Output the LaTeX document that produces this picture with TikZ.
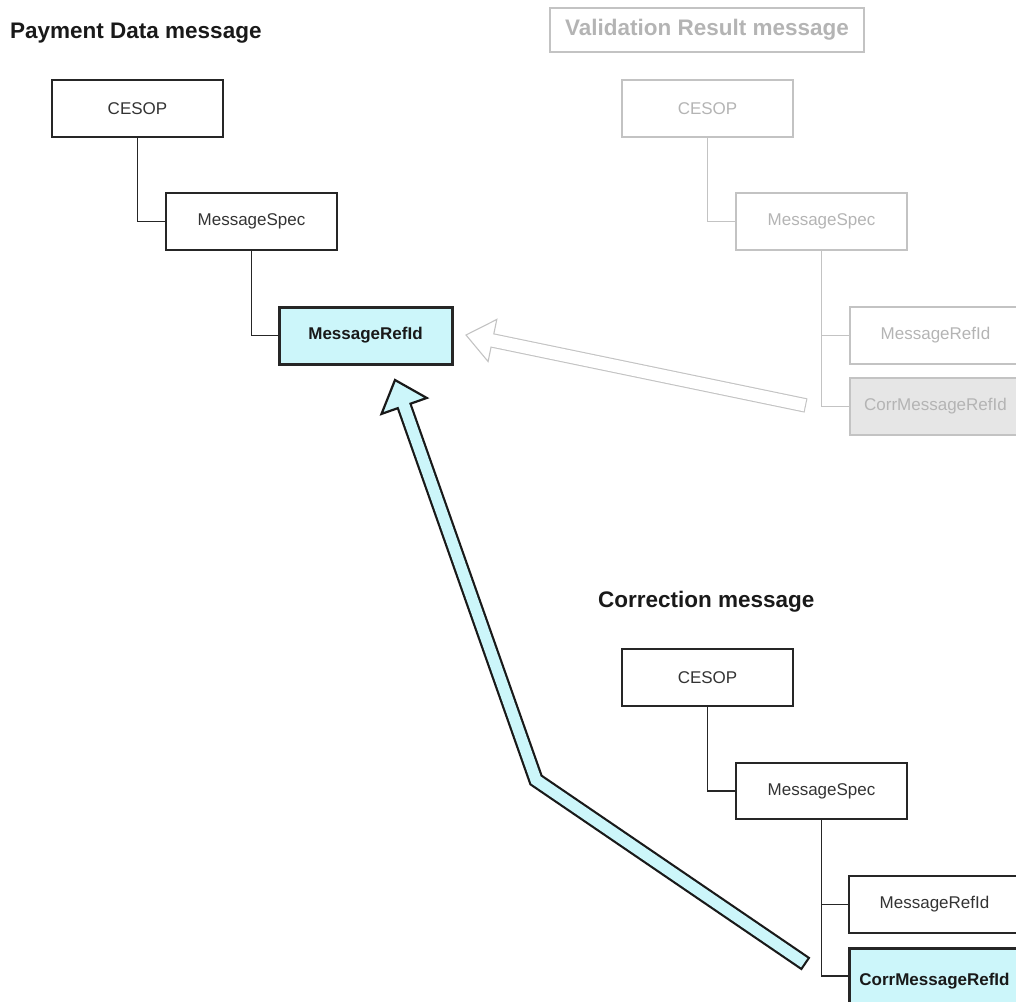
\documentclass[tikz,border=0pt]{standalone}
\usepackage{fontspec}
\setmainfont{Liberation Sans}
\usetikzlibrary{calc}
\definecolor{boxtext}{RGB}{51,51,51}
\definecolor{cyanfill}{RGB}{204,246,250}
\definecolor{vgray}{RGB}{195,195,195}
\definecolor{vtext}{RGB}{180,180,180}
\definecolor{vfill}{RGB}{230,230,230}
\begin{document}
\begin{tikzpicture}[x=1pt,y=-1pt,
  box/.style={draw=black!85, line width=1.3pt, minimum width=171pt, minimum height=57pt, inner sep=0pt, text=boxtext, font=\fontsize{17}{20}\selectfont},
  hibox/.style={box, line width=3pt, fill=cyanfill, text=black!90, font=\bfseries\fontsize{17}{20}\selectfont},
  vbox/.style={box, draw=vgray, text=vtext},
  link/.style={draw=black!85, line width=1.3pt},
  vlink/.style={draw=vgray, line width=1.3pt},
  title/.style={anchor=base west, inner sep=0pt, font=\bfseries\fontsize{22.5}{26}\selectfont, text=black!90}]
\useasboundingbox (0,0) rectangle (1016,1001);
\clip (0,0) rectangle (1016,1001);

% Payment Data message
\node[title] (pT) at (10,38) {Payment Data message};
\node[box] (pC) at (137.5,108.5) {CESOP};
\node[box] (pS) at (251.5,221.5) {MessageSpec};
\node[hibox, minimum width=173pt] (pR) at (365.5,335.5) {MessageRefId};
\draw[link] (pC.south) |- (pS.west);
\draw[link] (pS.south) |- (pR.west);

% Validation Result message
\node[draw=vgray, line width=1.3pt, minimum width=314pt, minimum height=44pt, inner sep=0pt, text=vtext, font=\bfseries\fontsize{22.5}{26}\selectfont] (vT) at (707,30) {Validation Result message};
\node[vbox] (vC) at (707.5,108.5) {CESOP};
\node[vbox] (vS) at (821.5,221.5) {MessageSpec};
\node[vbox] (vR) at (935.5,335.5) {MessageRefId};
\node[vbox, fill=vfill] (vCR) at (935.5,406.5) {CorrMessageRefId};
\draw[vlink] (vC.south) |- (vS.west);
\draw[vlink] (vS.south) |- (vR.west);
\draw[vlink] (vS.south) |- (vCR.west);

% Correction message
\node[title] (cT) at (598,607) {Correction message};
\node[box] (cC) at (707.5,677.5) {CESOP};
\node[box, minimum height=56pt] (cS) at (821.5,791) {MessageSpec};
\node[box] (cR) at (934.5,904.5) {MessageRefId};
\node[hibox, minimum height=66pt] (cCR) at (934.5,981) {CorrMessageRefId};
\coordinate (cJ) at (cS.south |- 0,976);
\draw[link] (cC.south) |- (cS.west);
\draw[link] (cS.south) |- (cR.west);
\draw[link] (cS.south) -- (cJ) -- (cCR.west |- cJ);

% gray hollow arrow (validation -> payment)
\coordinate (gt) at (806,405.5);
\coordinate (gp) at (466,335);
\coordinate (gh) at ($(gp)!27pt!(gt)$);
\coordinate (gl) at ($(gh)!21.5pt!90:(gp)$);
\coordinate (gr) at ($(gh)!21.5pt!-90:(gp)$);
\draw[line width=14.5pt, vgray] (gt) -- (gh);
\draw[fill=white, draw=vgray, line width=1.1pt, line join=miter] (gp) -- (gl) -- (gr) -- cycle;
\draw[line width=12.3pt, white, shorten <=1.1pt, shorten >=-3pt] (gt) -- (gh);

% cyan bent arrow (correction -> payment)
\coordinate (at) at (806,964);
\coordinate (ab) at (536,780);
\coordinate (ap) at (395,380);
\coordinate (ah) at ($(ap)!27.5pt!(ab)$);
\coordinate (al) at ($(ah)!24pt!90:(ap)$);
\coordinate (ar) at ($(ah)!24pt!-90:(ap)$);
\draw[line width=15.5pt, black!90, line join=miter] (at) -- (ab) -- (ah);
\draw[fill=cyanfill, draw=black!90, line width=2.2pt, line join=miter] (ap) -- (al) -- (ar) -- cycle;
\draw[line width=11.1pt, cyanfill, line join=miter, shorten <=2.2pt, shorten >=-3pt] (at) -- (ab) -- (ah);
\end{tikzpicture}
\end{document}
